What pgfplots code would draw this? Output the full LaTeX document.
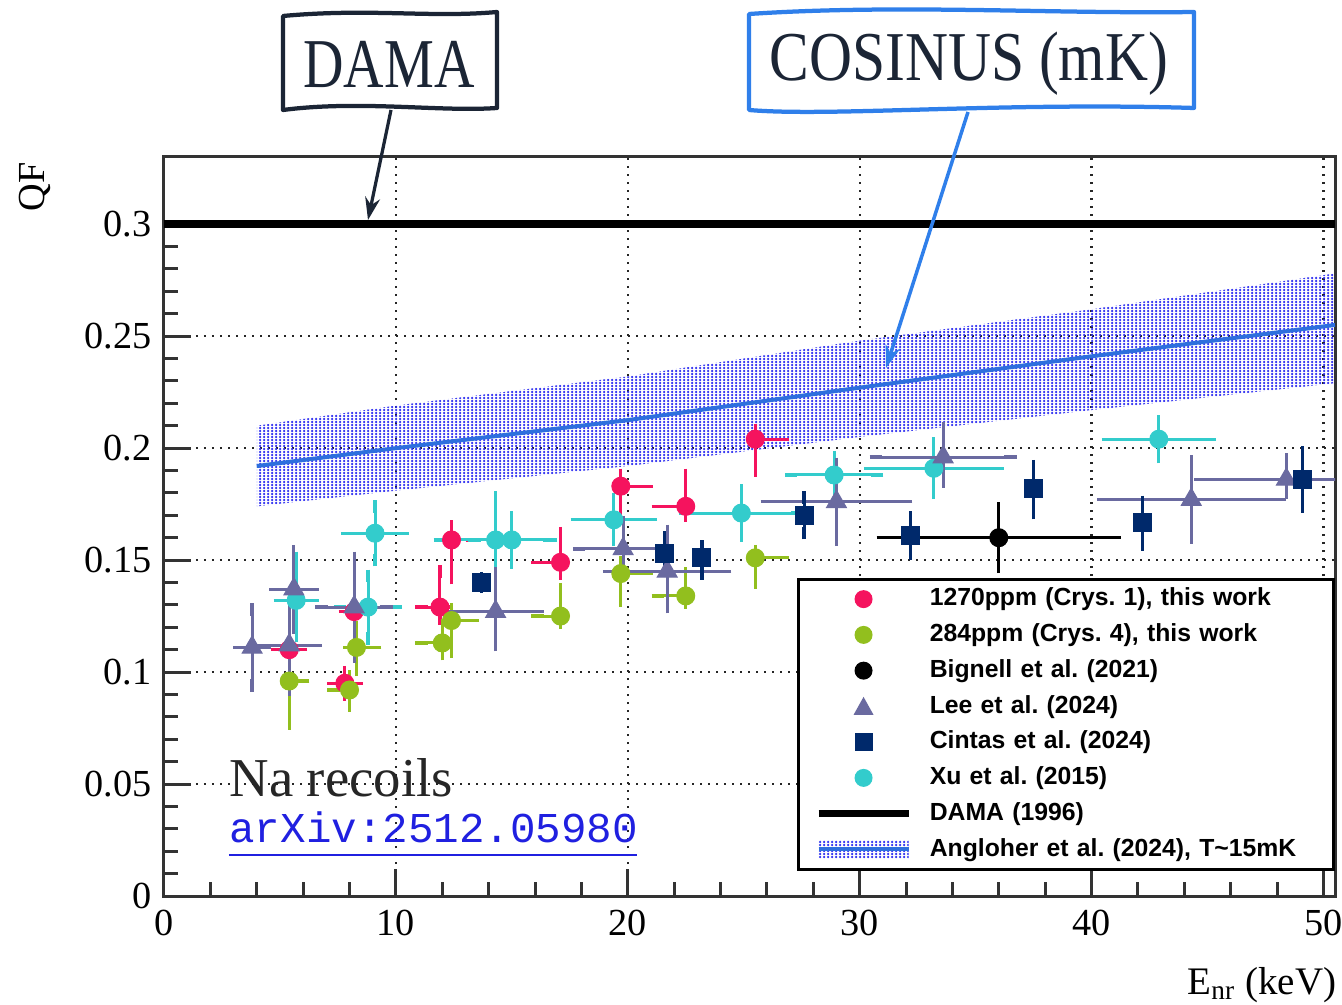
\documentclass[border=0pt]{standalone}
\usepackage{pgfplots}
\pgfplotsset{compat=1.18}
\usepackage{fontspec}
\setmainfont{Liberation Serif}
\newfontfamily\legfont{Liberation Sans}
\newfontfamily\monofont{Liberation Mono}
\usetikzlibrary{patterns, arrows.meta}
\frenchspacing

\pgfdeclarepatternformonly{densedots}{\pgfqpoint{-0.6pt}{-0.6pt}}{\pgfqpoint{0.6pt}{0.6pt}}{\pgfqpoint{1.6pt}{1.2pt}}{\pgfpathcircle{\pgfqpoint{0pt}{0pt}}{0.5pt}\pgfusepath{fill}}

\definecolor{cred}{HTML}{F5135E}
\definecolor{cgreen}{HTML}{92BF1E}
\definecolor{clee}{HTML}{6A6AA0}
\definecolor{ccin}{HTML}{00296B}
\definecolor{cxu}{HTML}{33CCCC}
\definecolor{cline}{HTML}{2E6FDD}
\definecolor{cdot}{HTML}{2A2AF0}
\definecolor{cdama}{HTML}{1B2535}
\definecolor{ccos}{HTML}{2F7FEA}
\definecolor{carx}{HTML}{2020E0}

\pgfplotsset{
  ebar/.style={only marks, mark=*, mark size=3.6pt, color=#1,
    mark options={draw=none, fill=#1},
    error bars/x dir=both, error bars/y dir=both,
    error bars/x explicit, error bars/y explicit,
    error bars/error bar style={line width=1.2pt, color=#1},
    error bars/error mark options={line width=1.3pt, mark size=2.5pt, color=#1}},
}
\newcommand{\lbb}{\path[draw=none, fill=none] (0,-2.2pt) rectangle (36pt,2.2pt);}

\begin{document}
\begin{tikzpicture}
\useasboundingbox (-65.6pt,-43.2pt) rectangle (471.2pt,358.4pt);
\begin{axis}[
  at={(0,0)}, anchor=south west, scale only axis,
  width=468.4pt, height=295.6pt,
  xmin=0, xmax=50.5, ymin=0, ymax=0.33,
  xtick={0,10,20,30,40,50}, xticklabels={0,10,20,30,40,50},
  ytick={0,0.05,0.1,0.15,0.2,0.25,0.3},
  yticklabels={0,0.05,0.1,0.15,0.2,0.25,0.3},
  minor x tick num=4, minor y tick num=4,
  tick align=inside, tick pos=left,
  major tick length=11pt, minor tick length=5.5pt,
  axis line style={line width=1.2pt, draw=black!80},
  every tick/.style={line width=1.2pt, black!80},
  grid=major,
  major grid style={line width=0.9pt, dash pattern=on 0.9pt off 2.3pt, black!85},
  ticklabel style={font=\fontsize{15.3}{18}\selectfont},
  xticklabel style={yshift=-2pt},
  yticklabel style={xshift=-1.5pt},
  ylabel={QF},
  ylabel style={at={(axis description cs:-0.11,0.96)}, rotate=0, anchor=center, font=\fontsize{15.3}{18}\selectfont},
  xlabel={E\textsubscript{nr} (keV)},
  xlabel style={at={(axis description cs:1.0,-0.12)}, anchor=east, xshift=4pt, font=\fontsize{15.6}{18}\selectfont},
  legend cell align=left,
  legend style={at={(axis description cs:0.5406,0.4303)}, anchor=north west,
    draw=black, line width=1.2pt, fill=white,
    inner xsep=6.5pt, inner ysep=3pt, row sep=4.6pt,
    font=\legfont\bfseries\fontsize{9.9}{11}\selectfont,
    nodes={inner sep=0pt, text height=7.5pt, text depth=2.2pt},
    /tikz/every odd column/.append style={column sep=7pt},
    /tikz/every even column/.append style={text width=155pt}},
]
% Angloher band
\addplot[draw=none, pattern=densedots, pattern color=cdot, forget plot] coordinates {
 (4,0.210) (10,0.219) (20,0.232) (30,0.248) (40,0.262) (50.5,0.278)
 (50.5,0.229) (40,0.217) (30,0.205) (20,0.192) (10,0.181) (4,0.174)} -- cycle;
\addplot[line width=1.6pt, cline, forget plot] coordinates {
 (4,0.192) (10,0.200) (20,0.2125) (30,0.227) (40,0.241) (50.5,0.255)};
% DAMA
\addplot[line width=3.2pt, black, forget plot] coordinates {(0,0.3) (50.5,0.3)};
% 1270ppm
\addplot[ebar=cred, forget plot] coordinates {
 (5.4,0.110) +- (0.5,0.010)
 (7.8,0.095) +- (0.5,0.005)
 (8.2,0.127) +- (0.4,0.012)
 (11.9,0.129) += (0.3,0.016) -= (0.8,0.005)
 (12.4,0.159) += (0.9,0.006) -= (0.3,0.017)
 (17.1,0.149) += (0,0.013) -= (1.0,0.005)
 (19.7,0.183) += (1.1,0.005) -= (0,0.014)
 (22.5,0.174) += (0,0.014) -= (1.2,0.004)
 (25.5,0.204) += (1.2,0.004) -= (0,0.014)
};
% 284ppm
\addplot[ebar=cgreen, forget plot] coordinates {
 (5.4,0.096) += (0.6,0.012) -= (0,0.019)
 (8.0,0.092) += (0,0.006) -= (0.7,0.007)
 (8.3,0.111) += (0.8,0.009) -= (0.3,0.010)
 (12.0,0.113) += (0,0.008) -= (0.9,0.005)
 (12.4,0.123) += (0.9,0.005) -= (0,0.014)
 (17.1,0.125) += (0,0.012) -= (1.0,0.003)
 (19.7,0.144) += (1.1,0.005) -= (0,0.012)
 (22.5,0.134) += (0,0.010) -= (1.2,0.003)
 (25.5,0.151) += (1.2,0.003) -= (0,0.011)
};
% Xu 2015
\addplot[ebar=cxu, forget plot] coordinates {
 (5.7,0.132) += (0.7,0.019) -= (0.7,0.016)
 (8.8,0.129) +- (1.2,0.014)
 (9.1,0.162) +- (1.2,0.012)
 (14.3,0.159) +- (2.4,0.019)
 (15.0,0.159) +- (1.6,0.010)
 (19.4,0.168) +- (1.6,0.009)
 (24.9,0.171) +- (2.4,0.010)
 (28.9,0.188) +- (1.85,0.008)
 (33.2,0.191) +- (2.75,0.011)
 (42.9,0.204) +- (2.2,0.008)
};
% Bignell 2021
\addplot[ebar=black, forget plot] coordinates {
 (36.0,0.160) +- (5.0,0.013)
};
% Lee 2024
\addplot[ebar=clee, mark=triangle*, mark size=4.6pt, forget plot] coordinates {
 (3.8,0.111) +- (0.55,0.017)
 (5.6,0.137) +- (0.8,0.017)
 (5.4,0.112) += (1.15,0.018) -= (1.15,0.020)
 (8.2,0.129) +- (1.4,0.022)
 (14.3,0.127) += (1.8,0.017) -= (1.8,0.015)
 (19.8,0.155) += (1.9,0.012) -= (1.9,0.010)
 (21.7,0.145) += (2.5,0.018) -= (2.5,0.016)
 (29.0,0.176) +- (3.0,0.017)
 (33.6,0.196) += (2.9,0.013) -= (2.9,0.011)
 (44.3,0.177) +- (3.8,0.017)
 (48.4,0.186) += (3.8,0.009) -= (3.7,0.006)
};
% Cintas 2024
\addplot[ebar=ccin, mark=square*, mark size=3.6pt, error bars/x dir=none, forget plot] coordinates {
 (13.7,0.140) += (0,0.002) -= (0,0.002)
 (21.6,0.153) += (0,0.007) -= (0,0.004)
 (23.2,0.151) += (0,0.005) -= (0,0.007)
 (27.6,0.170) += (0,0.008) -= (0,0.008)
 (32.2,0.161) += (0,0.008) -= (0,0.008)
 (37.5,0.182) += (0,0.010) -= (0,0.011)
 (42.2,0.167) += (0,0.009) -= (0,0.010)
 (49.1,0.186) += (0,0.012) -= (0,0.012)
};
% legend
\addlegendimage{legend image code/.code={\lbb \fill[cred, draw=none] (18pt,0pt) circle (3.6pt);}}
\addlegendentry{1270ppm (Crys. 1), this work}
\addlegendimage{legend image code/.code={\lbb \fill[cgreen, draw=none] (18pt,0pt) circle (3.6pt);}}
\addlegendentry{284ppm (Crys. 4), this work}
\addlegendimage{legend image code/.code={\lbb \fill[black, draw=none] (18pt,0pt) circle (3.6pt);}}
\addlegendentry{Bignell et al. (2021)}
\addlegendimage{legend image code/.code={\lbb \fill[clee, draw=none] (14pt,-3.4pt) -- (22pt,-3.4pt) -- (18pt,3.8pt) -- cycle;}}
\addlegendentry{Lee et al. (2024)}
\addlegendimage{legend image code/.code={\lbb \fill[ccin, draw=none] (14.4pt,-3.6pt) rectangle (21.6pt,3.6pt);}}
\addlegendentry{Cintas et al. (2024)}
\addlegendimage{legend image code/.code={\lbb \fill[cxu, draw=none] (18pt,0pt) circle (3.6pt);}}
\addlegendentry{Xu et al. (2015)}
\addlegendimage{legend image code/.code={\lbb \draw[black, line width=3pt] (0,0pt) -- (36pt,0pt);}}
\addlegendentry{DAMA (1996)}
\addlegendimage{legend image code/.code={\lbb \fill[draw=none, pattern=densedots, pattern color=cdot] (0,-3.6pt) rectangle (36pt,3.6pt); \draw[cline, line width=1.6pt] (0,0pt) -- (36pt,0pt);}}
\addlegendentry{Angloher et al. (2024), T\textasciitilde 15mK}
\end{axis}
% annotations in pixel coordinates of the reference
\begin{scope}[shift={(-65.6pt,358.4pt)}, x=0.4pt, y=-0.4pt]
  \node[anchor=base west, text=black!85, font=\fontsize{21.9}{24}\selectfont, inner sep=0pt] at (229,797) {Na recoils};
  \node[anchor=base west, text=carx, font=\monofont\fontsize{17}{20}\selectfont, inner sep=0pt] at (229,843) {arXiv:2512.05980};
  \draw[carx, line width=0.9pt] (229,855) -- (637,855);
  % DAMA box
  \draw[cdama, line width=1.7pt, line join=round, fill=white]
    (283,16) .. controls (370,8) and (430,18) .. (497,12) -- (497,108)
    .. controls (440,112) and (360,100) .. (283,110) -- cycle;
  \node[text=cdama, font=\fontsize{28}{30}\selectfont] at (389,64) {\scalebox{0.8}[1]{DAMA}};
  \draw[cdama, line width=1.3pt, -{Stealth[length=9pt, width=6pt]}] (391,110) -- (368,220);
  % COSINUS box
  \draw[ccos, line width=1.7pt, line join=round, fill=white]
    (749,14) .. controls (900,4) and (1050,14) .. (1194,12) -- (1194,108)
    .. controls (1000,102) and (830,117) .. (749,110) -- cycle;
  \node[text=cdama, font=\fontsize{28}{30}\selectfont] at (969,64) {\scalebox{0.85}[1]{COSINUS (mK)}};
  \draw[ccos, line width=1.4pt, -{Stealth[length=9pt, width=6pt]}] (968,112) -- (886,368);
\end{scope}
\end{tikzpicture}
\end{document}
